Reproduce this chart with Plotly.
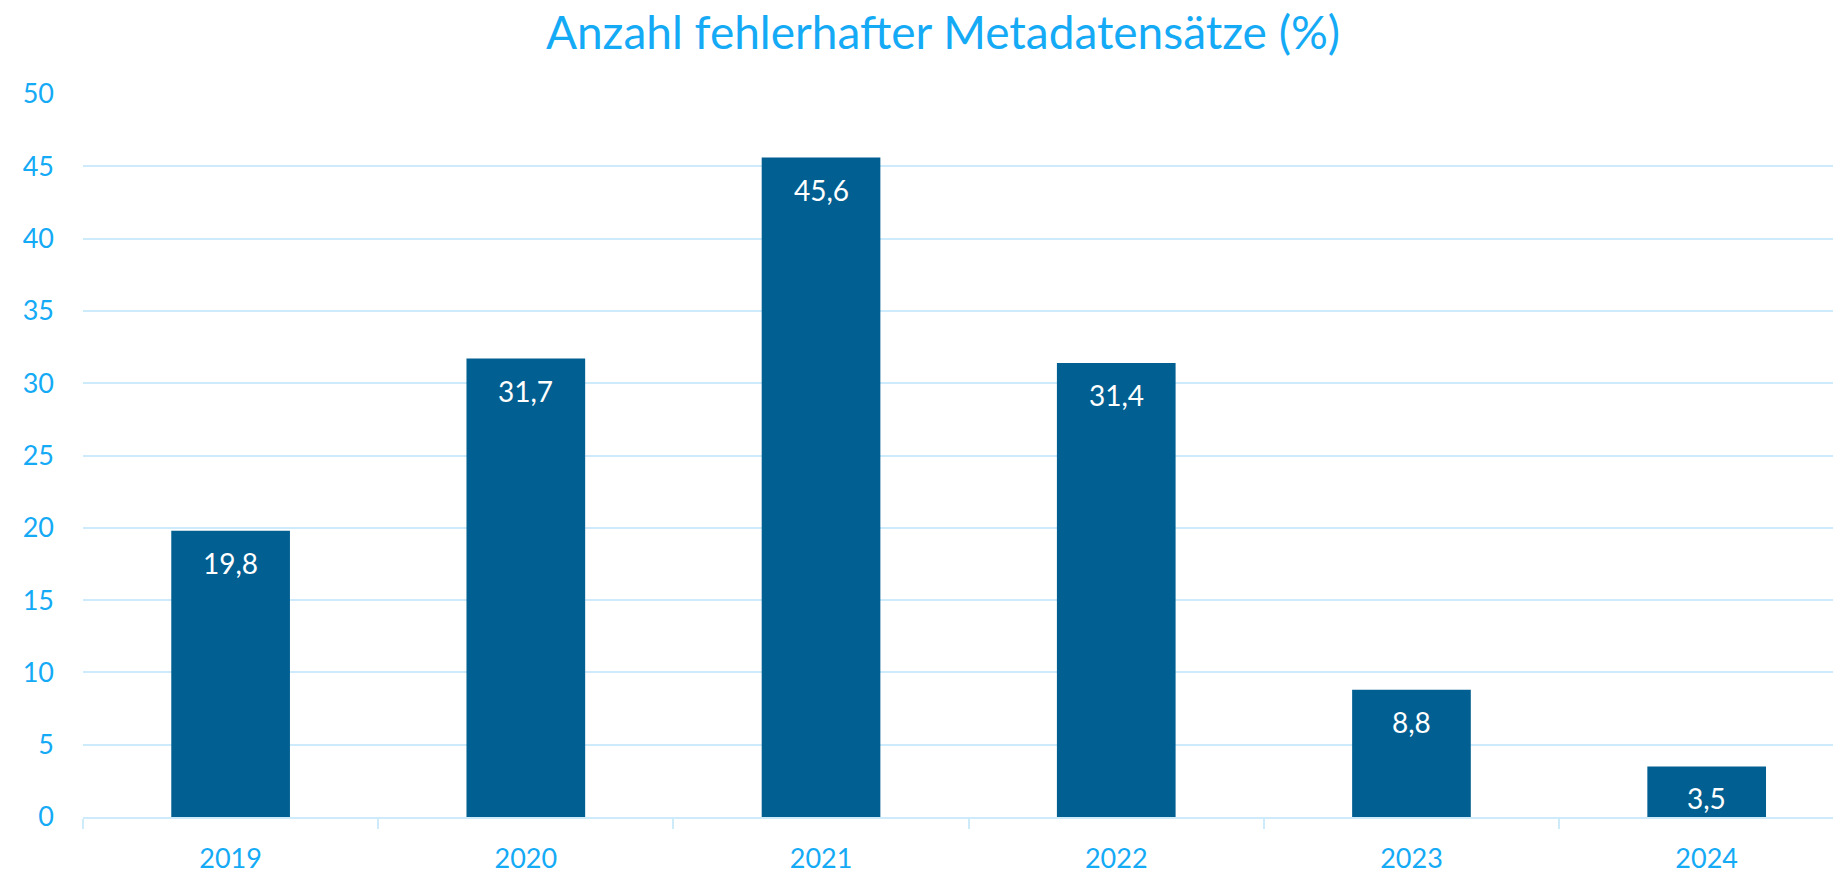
import plotly.graph_objects as go

years = ["2019", "2020", "2021", "2022", "2023", "2024"]
values = [19.8, 31.7, 45.6, 31.4, 8.8, 3.5]
y_ticks = [0, 5, 10, 15, 20, 25, 30, 35, 40, 45, 50]
title_text = "Anzahl fehlerhafter Metadatensätze (%)"

BAR = "#025F91"
BLUE = "#14AAF5"
GRID = "#CDEBFA"
FONT = "Lato, Calibri, sans-serif"
OFF = 8  # default body margin of the page

fig = go.Figure(go.Bar(x=years, y=values, marker=dict(color=BAR, line=dict(width=0)),
                       hoverinfo="skip"))

for i, v in enumerate(values):
    fig.add_annotation(x=i, y=v, text=f"{v:.1f}".replace(".", ","), showarrow=False,
                       yshift=-32, yanchor="middle",
                       font=dict(family=FONT, size=28, color="white"))

fig.update_layout(
    width=1841, height=875,
    margin=dict(l=83 - OFF, r=OFF, t=94 - OFF, b=58 + OFF),
    paper_bgcolor="white", plot_bgcolor="white",
    bargap=0.598,
    showlegend=False,
    title=dict(text=title_text, x=(943 - OFF) / 1841, xanchor="center", xref="container",
               y=1 - (33 - OFF) / 875, yanchor="middle", yref="container",
               font=dict(family=FONT, size=46, color=BLUE)),
    font=dict(family=FONT, color=BLUE),
)
fig.update_xaxes(type="category", range=[-0.5, 5.455], showgrid=False,
                 showline=True, linecolor=GRID, linewidth=2,
                 ticks="outside", tickson="boundaries", ticklen=10, tickcolor=GRID, tickwidth=2,
                 tickfont=dict(family=FONT, size=27, color=BLUE), ticklabelstandoff=17)
fig.update_yaxes(range=[0, 50], tickvals=y_ticks, showgrid=True, gridcolor=GRID, gridwidth=2,
                 zeroline=False, showline=False, ticks="",
                 tickfont=dict(family=FONT, size=27, color=BLUE), ticklabelstandoff=28)

fig.write_html("out.html")
